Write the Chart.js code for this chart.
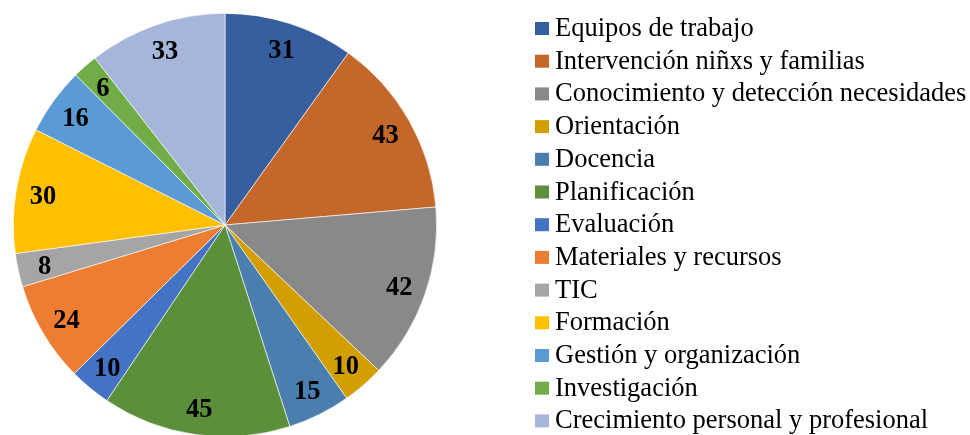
<!DOCTYPE html>
<html>
<head>
<meta charset="utf-8">
<script src="https://cdn.jsdelivr.net/npm/chart.js@4.4.1/dist/chart.umd.min.js"></script>
<style>
  html, body { margin: 0; padding: 0; background: #ffffff; overflow: hidden; }
  #wrap { width: 970px; height: 440px; }
</style>
</head>
<body>
<div id="wrap"><canvas id="c" width="970" height="440"></canvas></div>
<script>
const categories = [
  "Equipos de trabajo",
  "Intervención niñxs y familias",
  "Conocimiento y detección necesidades",
  "Orientación",
  "Docencia",
  "Planificación",
  "Evaluación",
  "Materiales y recursos",
  "TIC",
  "Formación",
  "Gestión y organización",
  "Investigación",
  "Crecimiento personal y profesional"
];
const values = [31, 43, 42, 10, 15, 45, 10, 24, 8, 30, 16, 6, 33];
const colors = [
  "#375E9F", "#C4672B", "#898989", "#D39F00", "#4A7EAE", "#5B8F3A", "#4472C4",
  "#ED7D31", "#A5A5A5", "#FFC000", "#5B9BD5", "#70AD47", "#A6B5DA"
];

const FONT = '"Liberation Serif", "Times New Roman", serif';

const sliceLabels = {
  id: 'sliceLabels',
  afterDatasetsDraw(chart) {
    const ctx = chart.ctx;
    const meta = chart.getDatasetMeta(0);
    ctx.save();
    ctx.font = 'bold 26.5px ' + FONT;
    ctx.fillStyle = '#000000';
    ctx.textAlign = 'center';
    ctx.textBaseline = 'alphabetic';
    meta.data.forEach((arc, i) => {
      const p = arc.getProps(['x', 'y', 'startAngle', 'endAngle', 'outerRadius'], true);
      const mid = (p.startAngle + p.endAngle) / 2;
      const r = p.outerRadius * 0.872;
      ctx.fillText(String(chart.data.datasets[0].data[i]),
        p.x + Math.cos(mid) * r, p.y + Math.sin(mid) * r + 9);
    });
    ctx.restore();
  }
};

const sideLegend = {
  id: 'sideLegend',
  afterDraw(chart) {
    const ctx = chart.ctx;
    const labels = chart.data.labels;
    const bg = chart.data.datasets[0].backgroundColor;
    ctx.save();
    ctx.font = '26.5px ' + FONT;
    ctx.textAlign = 'left';
    ctx.textBaseline = 'alphabetic';
    labels.forEach((lab, i) => {
      const base = 36 + 32.7 * i;
      ctx.fillStyle = bg[i];
      ctx.fillRect(535, base - 14, 14, 13);
      ctx.fillStyle = '#000000';
      ctx.fillText(lab, 555, base);
    });
    ctx.restore();
  }
};

new Chart(document.getElementById('c'), {
  type: 'pie',
  data: {
    labels: categories,
    datasets: [{
      data: values,
      backgroundColor: colors,
      borderColor: 'rgba(255,255,255,0.8)',
      borderWidth: 0.75
    }]
  },
  options: {
    responsive: false,
    animation: false,
    devicePixelRatio: 1,
    layout: { padding: { left: 13, top: 13, right: 533, bottom: 3 } },
    plugins: {
      legend: { display: false },
      tooltip: { enabled: false }
    }
  },
  plugins: [sliceLabels, sideLegend]
});
</script>
</body>
</html>
